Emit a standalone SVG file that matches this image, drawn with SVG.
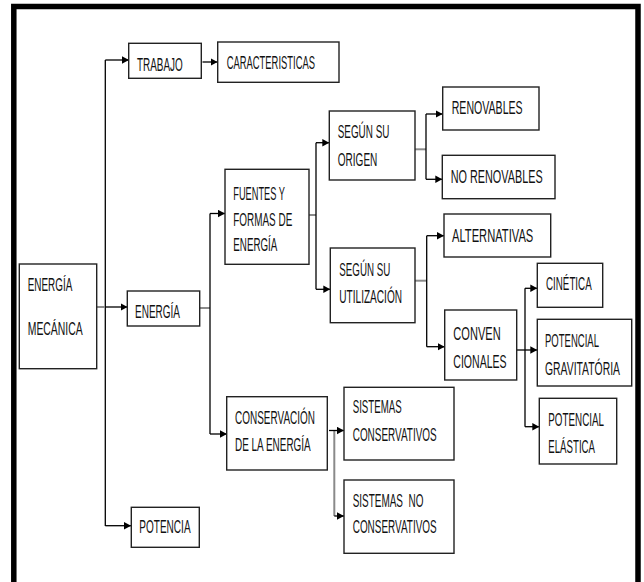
<svg xmlns="http://www.w3.org/2000/svg" width="644" height="582" viewBox="0 0 644 582">
<defs>
<marker id="ah" markerWidth="8" markerHeight="8" refX="7" refY="4" orient="auto" markerUnits="userSpaceOnUse"><path d="M0,0.3 L7,4 L0,7.7 z" fill="#000"/></marker>
<style>
.box{fill:#fff;stroke:#222;stroke-width:1.4}
.t{font-family:"Liberation Sans",Arial,sans-serif;font-size:17.5px;fill:#111;white-space:pre}
.c{fill:none;stroke:#000;stroke-width:1.3}
.g{fill:none;stroke:#8a8a8a;stroke-width:2}
.ar{marker-end:url(#ah)}
</style>
</defs>
<rect width="644" height="582" fill="#fff"/>
<path d="M13.8,582 V6.5 H638 V582" fill="none" stroke="#000" stroke-width="5.5"/>

<g id="connectors">
<path class="c" d="M105.3,60 V526"/>
<path class="c ar" d="M105.3,60 H129"/>
<path class="c ar" d="M202.5,62 H217.5"/>
<path class="g" d="M97,307 H105"/>
<path class="c ar" d="M105.3,307 H127.5"/>
<path class="c ar" d="M105.3,525.7 H131"/>
<path class="g" d="M200,308 H210"/>
<path class="c" d="M210,213.5 V434"/>
<path class="c ar" d="M210,213.5 H225"/>
<path class="c ar" d="M210,434 H227"/>
<path class="g" d="M309,215 H316"/>
<path class="c" d="M316,142.7 V289.3"/>
<path class="c ar" d="M316,142.7 H329.3"/>
<path class="c ar" d="M316,289.3 H330.3"/>
<path class="g" d="M415,149.3 H426"/>
<path class="c" d="M426,114 V179.3"/>
<path class="c ar" d="M426,114 H442.7"/>
<path class="c ar" d="M426,179.3 H442.3"/>
<path class="g" d="M415,280.7 H426.7"/>
<path class="c" d="M426.7,235.7 V346.7"/>
<path class="c ar" d="M426.7,235.7 H444"/>
<path class="c ar" d="M426.7,346.7 H444.7"/>
<path class="c" d="M525,288.3 V426.7"/>
<path class="c ar" d="M517,350 H537.3"/>
<path class="c ar" d="M525,288.3 H537.3"/>
<path class="c ar" d="M525,426.7 H539.3"/>
<path class="g" d="M334.3,430.5 V516" stroke-width="1.6"/>
<path class="c ar" d="M329,430.5 H344"/>
<path class="c ar" d="M334.3,516 H344"/>
</g>

<g id="n-energia-mecanica"><rect class="box" x="19.3" y="264" width="77.4" height="104.7"/><text class="t" transform="translate(27.7,290.7) scale(0.58,1)" textLength="76.9" lengthAdjust="spacingAndGlyphs">ENERGÍA</text><text class="t" transform="translate(27.7,335) scale(0.58,1)" textLength="94.8" lengthAdjust="spacingAndGlyphs">MECÁNICA</text></g>
<g id="n-trabajo"><rect class="box" x="128.7" y="43.3" width="72.6" height="35"/><text class="t" transform="translate(137,70.5) scale(0.58,1)" textLength="78.8" lengthAdjust="spacingAndGlyphs">TRABAJO</text></g>
<g id="n-caracteristicas"><rect class="box" x="217.7" y="42" width="121.3" height="40.3"/><text class="t" transform="translate(226.7,68.5) scale(0.58,1)" textLength="152.2" lengthAdjust="spacingAndGlyphs">CARACTERISTICAS</text></g>
<g id="n-energia"><rect class="box" x="127.3" y="291" width="72.4" height="35"/><text class="t" transform="translate(135,317.5) scale(0.58,1)" textLength="77.6" lengthAdjust="spacingAndGlyphs">ENERGÍA</text></g>
<g id="n-potencia"><rect class="box" x="131.3" y="507.3" width="68" height="40"/><text class="t" transform="translate(139.3,533.3) scale(0.58,1)" textLength="88.4" lengthAdjust="spacingAndGlyphs">POTENCIA</text></g>
<g id="n-fuentes"><rect class="box" x="225" y="169.3" width="84" height="95"/><text class="t" transform="translate(233.3,200) scale(0.58,1)" textLength="89.1" lengthAdjust="spacingAndGlyphs">FUENTES Y</text><text class="t" transform="translate(233.3,226) scale(0.58,1)" textLength="101.7" lengthAdjust="spacingAndGlyphs">FORMAS DE</text><text class="t" transform="translate(233.3,251) scale(0.58,1)" textLength="75.9" lengthAdjust="spacingAndGlyphs">ENERGÍA</text></g>
<g id="n-conservacion"><rect class="box" x="226.7" y="396.7" width="100.6" height="73.3"/><text class="t" transform="translate(235,424) scale(0.58,1)" textLength="137.9" lengthAdjust="spacingAndGlyphs">CONSERVACIÓN</text><text class="t" transform="translate(235,450.7) scale(0.58,1)" textLength="130.5" lengthAdjust="spacingAndGlyphs">DE LA ENERGÍA</text></g>
<g id="n-origen"><rect class="box" x="329.3" y="111" width="85.7" height="69"/><text class="t" transform="translate(337.7,138.3) scale(0.58,1)" textLength="89.1" lengthAdjust="spacingAndGlyphs">SEGÚN SU</text><text class="t" transform="translate(337.7,166) scale(0.58,1)" textLength="68.4" lengthAdjust="spacingAndGlyphs">ORIGEN</text></g>
<g id="n-utilizacion"><rect class="box" x="330.3" y="248" width="84.7" height="74.7"/><text class="t" transform="translate(339.3,275.7) scale(0.58,1)" textLength="87.9" lengthAdjust="spacingAndGlyphs">SEGÚN SU</text><text class="t" transform="translate(339.3,303.3) scale(0.58,1)" textLength="108.1" lengthAdjust="spacingAndGlyphs">UTILIZACIÓN</text></g>
<g id="n-renovables"><rect class="box" x="442.7" y="87" width="96.3" height="43"/><text class="t" transform="translate(451.7,114) scale(0.58,1)" textLength="122.4" lengthAdjust="spacingAndGlyphs">RENOVABLES</text></g>
<g id="n-no-renovables"><rect class="box" x="442.3" y="155.3" width="112.7" height="43.4"/><text class="t" transform="translate(450.7,182.7) scale(0.58,1)" textLength="158.6" lengthAdjust="spacingAndGlyphs">NO RENOVABLES</text></g>
<g id="n-alternativas"><rect class="box" x="444" y="214" width="106.7" height="43"/><text class="t" transform="translate(452,241.7) scale(0.58,1)" textLength="140.2" lengthAdjust="spacingAndGlyphs">ALTERNATIVAS</text></g>
<g id="n-convencionales"><rect class="box" x="444.7" y="310" width="72" height="70"/><text class="t" transform="translate(453.3,340) scale(0.58,1)" textLength="81.6" lengthAdjust="spacingAndGlyphs">CONVEN</text><text class="t" transform="translate(453.3,368.3) scale(0.58,1)" textLength="91.9" lengthAdjust="spacingAndGlyphs">CIONALES</text></g>
<g id="n-cinetica"><rect class="box" x="537.3" y="263.3" width="65.4" height="44"/><text class="t" transform="translate(546,290) scale(0.58,1)" textLength="78.8" lengthAdjust="spacingAndGlyphs">CINÉTICA</text></g>
<g id="n-gravitatoria"><rect class="box" x="537.3" y="319.3" width="94.4" height="66.7"/><text class="t" transform="translate(545,347.3) scale(0.58,1)" textLength="93.1" lengthAdjust="spacingAndGlyphs">POTENCIAL</text><text class="t" transform="translate(545,375) scale(0.58,1)" textLength="129.3" lengthAdjust="spacingAndGlyphs">GRAVITATÓRIA</text></g>
<g id="n-elastica"><rect class="box" x="539.3" y="398.3" width="77.4" height="65.7"/><text class="t" transform="translate(548.3,425.7) scale(0.58,1)" textLength="96" lengthAdjust="spacingAndGlyphs">POTENCIAL</text><text class="t" transform="translate(548.3,453.3) scale(0.58,1)" textLength="80.5" lengthAdjust="spacingAndGlyphs">ELÁSTICA</text></g>
<g id="n-sist-conservativos"><rect class="box" x="344" y="387.3" width="110" height="72.7"/><text class="t" transform="translate(352.7,412.7) scale(0.58,1)" textLength="84.5" lengthAdjust="spacingAndGlyphs">SISTEMAS</text><text class="t" transform="translate(352.7,440.7) scale(0.58,1)" textLength="144.8" lengthAdjust="spacingAndGlyphs">CONSERVATIVOS</text></g>
<g id="n-sist-no-conservativos"><rect class="box" x="344" y="480" width="110" height="73.3"/><text class="t" transform="translate(352.7,506.7) scale(0.58,1)" textLength="121.9" lengthAdjust="spacingAndGlyphs">SISTEMAS  NO</text><text class="t" transform="translate(352.7,533.3) scale(0.58,1)" textLength="144.8" lengthAdjust="spacingAndGlyphs">CONSERVATIVOS</text></g>
</svg>
